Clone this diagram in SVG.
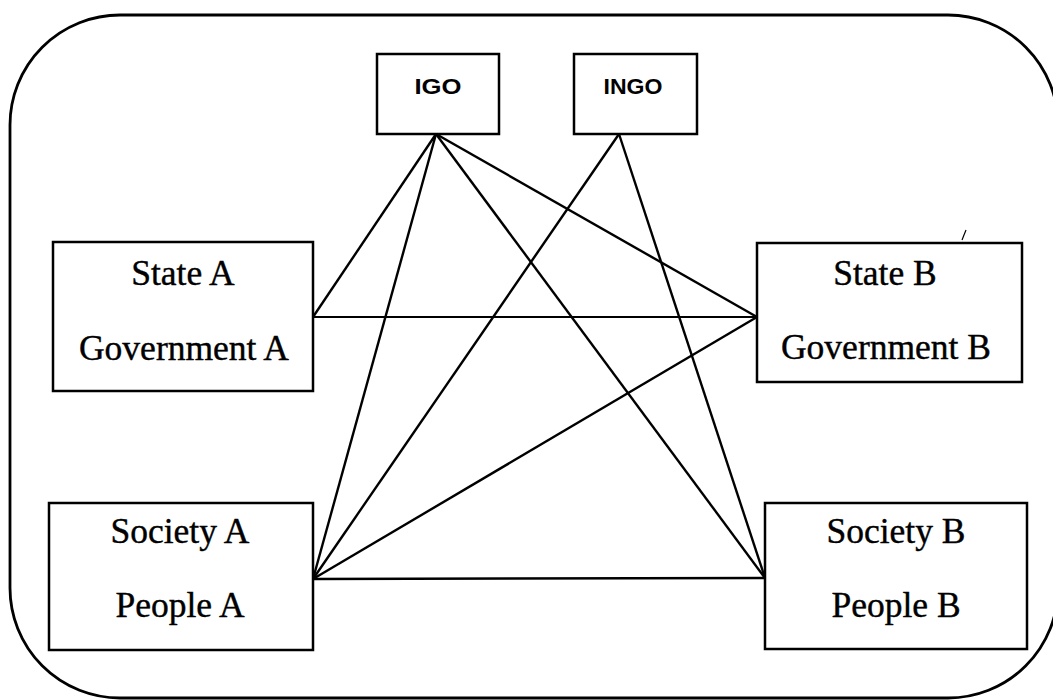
<svg xmlns="http://www.w3.org/2000/svg" width="1053" height="700" viewBox="0 0 1053 700">
<style>
.box{fill:#fff;stroke:#000;stroke-width:2.5}
.t{font-family:"Liberation Serif","Times New Roman",serif;font-size:35.5px;fill:#000;stroke:#000;stroke-width:0.4;text-anchor:middle}
.s{font-family:"Liberation Sans",Arial,sans-serif;font-size:22px;font-weight:bold;fill:#000;text-anchor:middle}
.c line{stroke:#000;stroke-width:2.4}
</style>
<rect id="frame" x="10" y="15" width="1048" height="683" rx="110" ry="110" fill="#fff" stroke="#000" stroke-width="2.8"/>
<g class="c" id="connectors">
<line x1="436" y1="134" x2="313" y2="317"/>
<line x1="436" y1="134" x2="313" y2="579"/>
<line x1="436" y1="134" x2="757" y2="317"/>
<line x1="436" y1="134" x2="765" y2="578"/>
<line x1="619" y1="134" x2="313" y2="579"/>
<line x1="619" y1="134" x2="765" y2="578"/>
<line x1="313" y1="317" x2="757" y2="317" style="stroke-width:1.8"/>
<line x1="757" y1="317" x2="313" y2="579"/>
<line x1="313" y1="579" x2="765" y2="578"/>
<line x1="962" y1="240" x2="966" y2="230" style="stroke-width:1.2"/>
</g>
<g id="igo"><rect class="box" x="377" y="54" width="122" height="80"/><text class="s" x="438" y="94" textLength="47" lengthAdjust="spacingAndGlyphs">IGO</text></g>
<g id="ingo"><rect class="box" x="574" y="54" width="123" height="80"/><text class="s" x="633" y="94" textLength="59" lengthAdjust="spacingAndGlyphs">INGO</text></g>
<g id="stateA"><rect class="box" x="53" y="242" width="260" height="149"/><text class="t" x="183" y="285">State A</text><text class="t" x="184" y="360">Government A</text></g>
<g id="stateB"><rect class="box" x="757" y="243" width="265" height="139"/><text class="t" x="885" y="285">State B</text><text class="t" x="886" y="359">Government B</text></g>
<g id="societyA"><rect class="box" x="49" y="503" width="264" height="147"/><text class="t" x="180" y="543">Society A</text><text class="t" x="180" y="617">People A</text></g>
<g id="societyB"><rect class="box" x="765" y="503" width="262" height="146"/><text class="t" x="896" y="543">Society B</text><text class="t" x="896" y="617">People B</text></g>
</svg>
